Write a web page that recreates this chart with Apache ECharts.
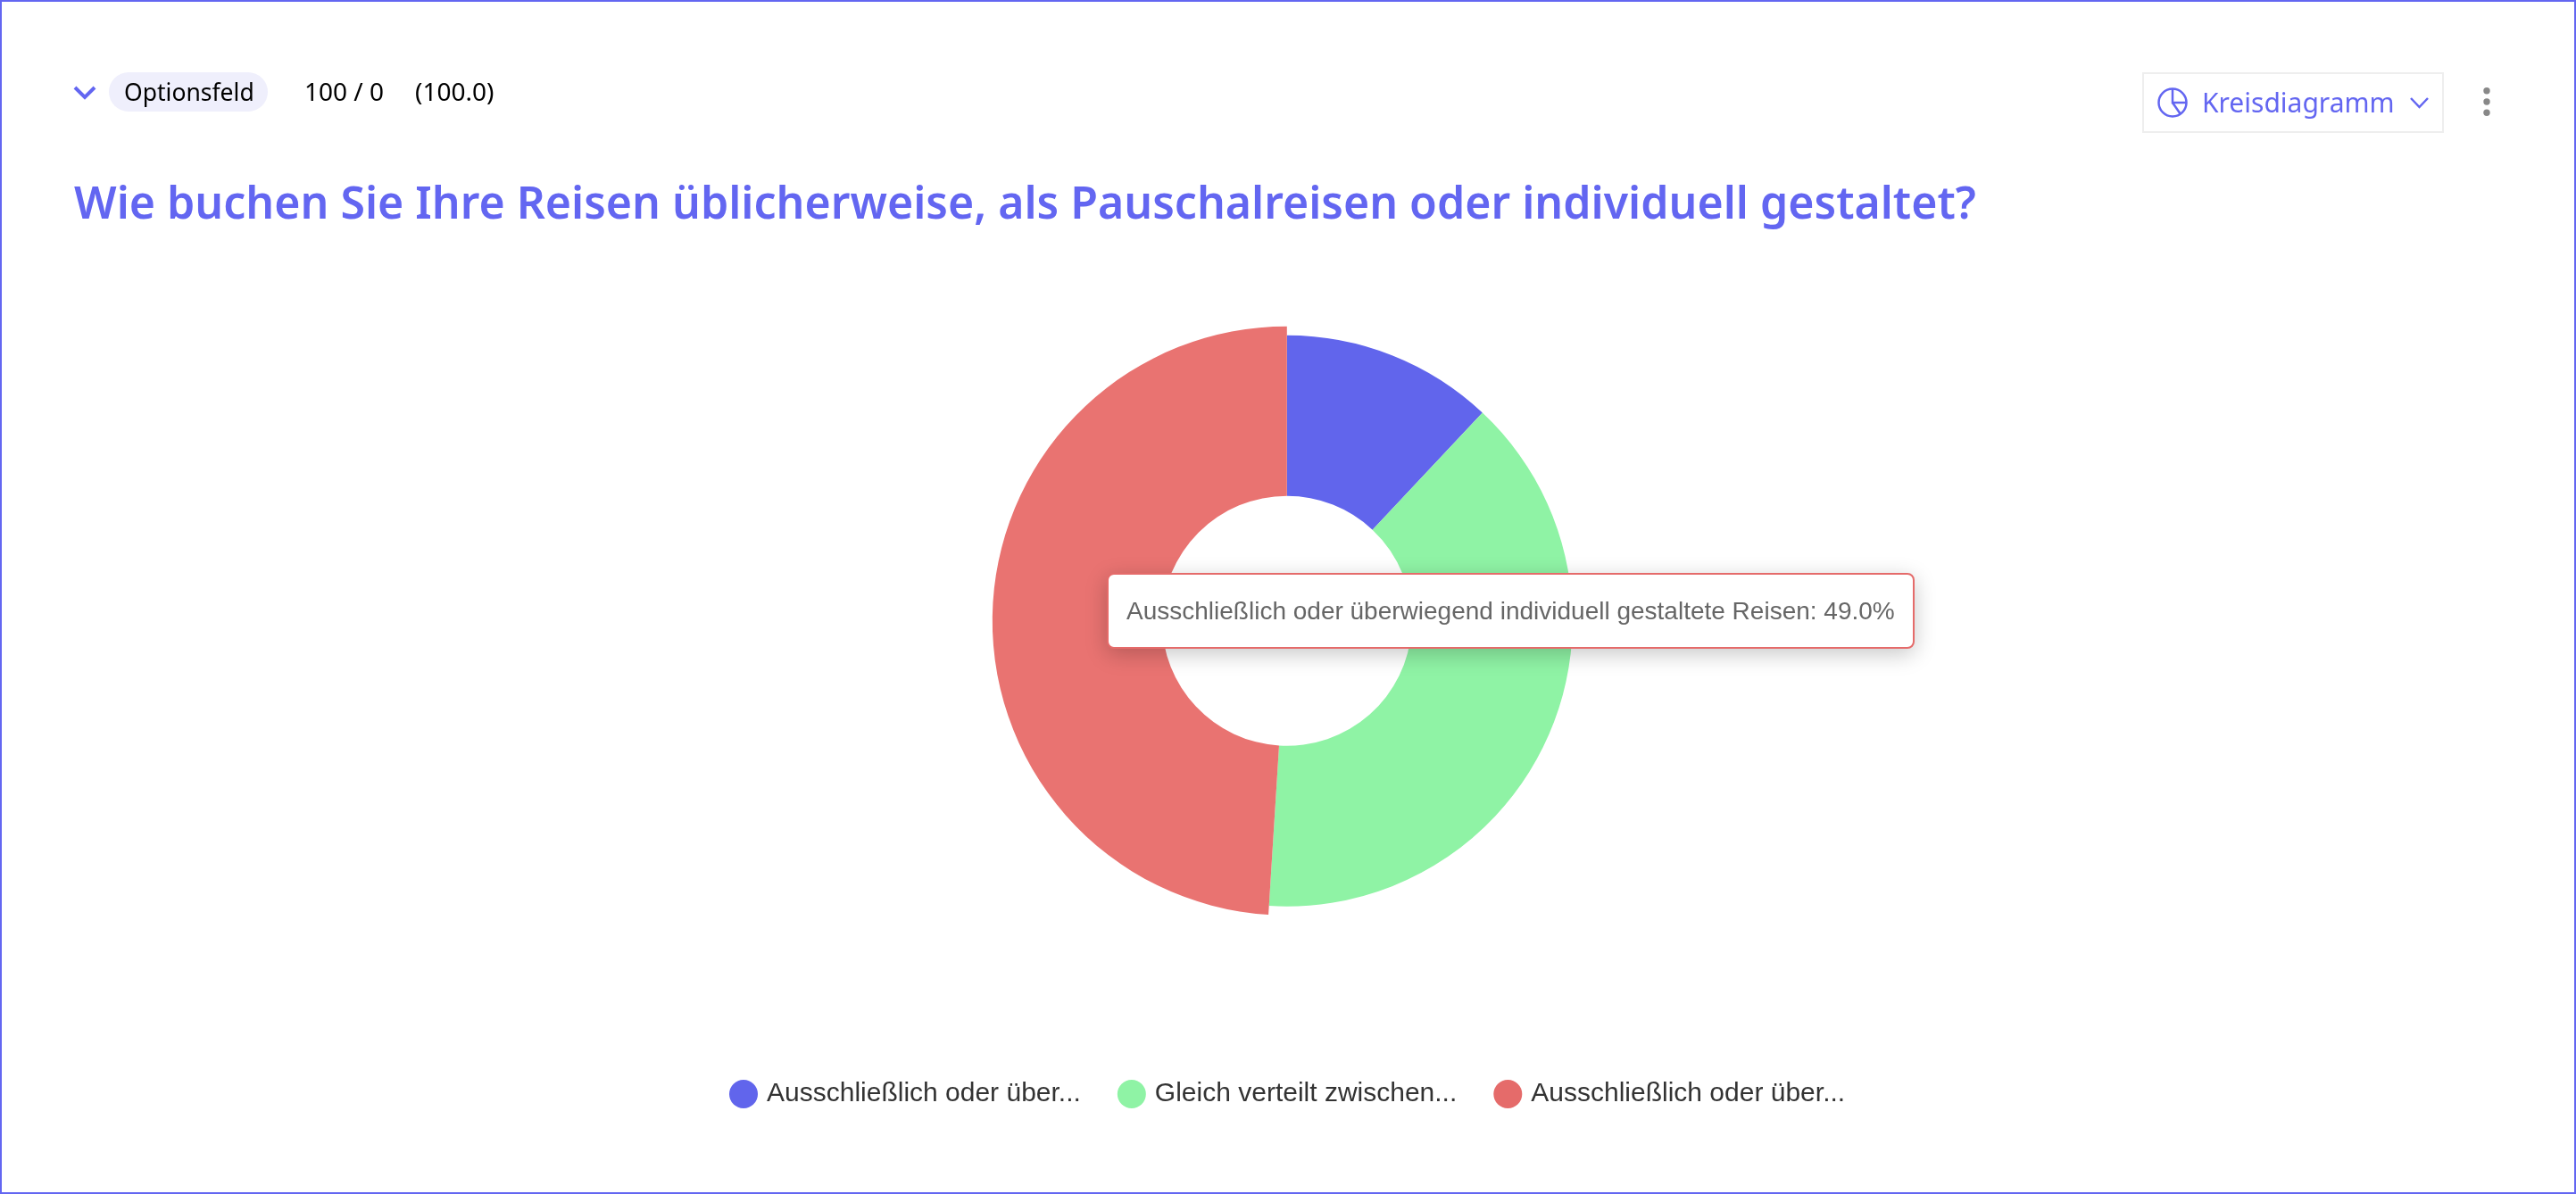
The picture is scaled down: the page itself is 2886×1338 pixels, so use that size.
<!DOCTYPE html>
<html>
<head>
<meta charset="utf-8">
<style>html,body{margin:0;padding:0;background:#fff;overflow:hidden}#c{width:2886px;height:1338px}</style>
<script src="https://cdn.jsdelivr.net/npm/echarts@6/dist/echarts.min.js"></script>
</head>
<body>
<div id="c"></div>
<script>
const categories = [
  "Ausschließlich oder überwiegend Pauschalreisen",
  "Gleich verteilt zwischen Pauschalreisen und individuell gestalteten Reisen",
  "Ausschließlich oder überwiegend individuell gestaltete Reisen"
];
const legendLabels = ["Ausschließlich oder über...", "Gleich verteilt zwischen...", "Ausschließlich oder über..."];
const values = [12, 39, 49];
const colors = ["#6165EC", "#8FF3A5", "#E56B6A"];
const hoverColor = "#E97371";
const titleText = "Wie buchen Sie Ihre Reisen üblicherweise, als Pauschalreisen oder individuell gestaltet?";
const PLEX = '"Noto Sans", sans-serif';
const BLUE = "#6366F1";

const chart = echarts.init(document.getElementById('c'), null, {renderer: 'canvas'});
const txt = (x, y, s, size, fill) => ({type: 'text', x, y, style: {text: s, fontFamily: PLEX, fontSize: size, fill, textVerticalAlign: 'middle'}});
const stroke = (w, c) => ({stroke: c, lineWidth: w, fill: null});

chart.setOption({
  animation: false,
  backgroundColor: '#fff',
  title: {
    text: titleText, left: 78, top: 196,
    textStyle: {fontFamily: PLEX, fontSize: 50, fontWeight: 600, color: BLUE, lineHeight: 60}
  },
  legend: {
    left: 817, top: 1210, padding: 0, orient: 'horizontal', icon: 'circle',
    itemWidth: 32, itemHeight: 32, itemGap: 41, selectedMode: false,
    data: categories,
    formatter: n => legendLabels[categories.indexOf(n)],
    textStyle: {fontFamily: '"Liberation Sans", Arial, sans-serif', fontSize: 30, color: '#333', padding: [3, 0, 0, 5]}
  },
  tooltip: {
    trigger: 'item', alwaysShowContent: true, transitionDuration: 0, showDelay: 0,
    position: [1240, 642], confine: false,
    backgroundColor: '#fff', borderColor: colors[2], borderWidth: 2, padding: [20, 20],
    textStyle: {fontFamily: '"Liberation Sans", Arial, sans-serif', fontSize: 28, color: '#666', lineHeight: 41},
    extraCssText: 'border-radius:8px;box-shadow:0 6px 24px rgba(0,0,0,0.22);white-space:nowrap;',
    formatter: p => p.name + ': ' + p.value.toFixed(1) + '%'
  },
  series: [{
    type: 'pie', center: [1441.8, 695.7], radius: [140, 320], startAngle: 90, clockwise: true,
    avoidLabelOverlap: false, label: {show: false}, labelLine: {show: false},
    stateAnimation: {duration: 0},
    emphasis: {scale: true, scaleSize: 10},
    data: categories.map((name, i) => ({
      name, value: values[i],
      itemStyle: {color: colors[i]},
      emphasis: {itemStyle: {color: i === 2 ? hoverColor : colors[i]}}
    }))
  }],
  graphic: [
    {type: 'rect', shape: {x: 1, y: 1, width: 2884, height: 1336}, style: {fill: null, stroke: BLUE, lineWidth: 2}, silent: true},
    {type: 'polyline', shape: {points: [[84, 98], [95, 109], [106, 98]]}, style: stroke(4, BLUE)},
    {type: 'rect', shape: {x: 122, y: 81, width: 178, height: 44, r: 22}, style: {fill: '#EFEFFC'}},
    txt(139, 105, 'Optionsfeld', 26.5, '#000'),
    txt(341, 105, '100 / 0', 28, '#000'),
    txt(465, 105, '(100.0)', 28, '#000'),
    {type: 'rect', shape: {x: 2401, y: 82, width: 336, height: 66}, style: {fill: '#fff', stroke: '#EEEEEE', lineWidth: 2}},
    {type: 'circle', shape: {cx: 2434, cy: 115, r: 15.5}, style: stroke(2.5, BLUE)},
    {type: 'polyline', shape: {points: [[2434, 100], [2434, 115], [2449, 115]]}, style: stroke(2.5, BLUE)},
    {type: 'line', shape: {x1: 2434, y1: 115, x2: 2443, y2: 128}, style: stroke(2.5, BLUE)},
    txt(2467, 117, 'Kreisdiagramm', 30, BLUE),
    {type: 'polyline', shape: {points: [[2701, 110], [2710.5, 120], [2720, 110]]}, style: stroke(2.5, BLUE)},
    {type: 'circle', shape: {cx: 2786, cy: 101.7, r: 3.7}, style: {fill: '#888'}},
    {type: 'circle', shape: {cx: 2786, cy: 114, r: 3.7}, style: {fill: '#888'}},
    {type: 'circle', shape: {cx: 2786, cy: 126.3, r: 3.7}, style: {fill: '#888'}}
  ]
});
chart.dispatchAction({type: 'highlight', seriesIndex: 0, dataIndex: 2});
chart.dispatchAction({type: 'showTip', seriesIndex: 0, dataIndex: 2});
</script>
</body>
</html>
